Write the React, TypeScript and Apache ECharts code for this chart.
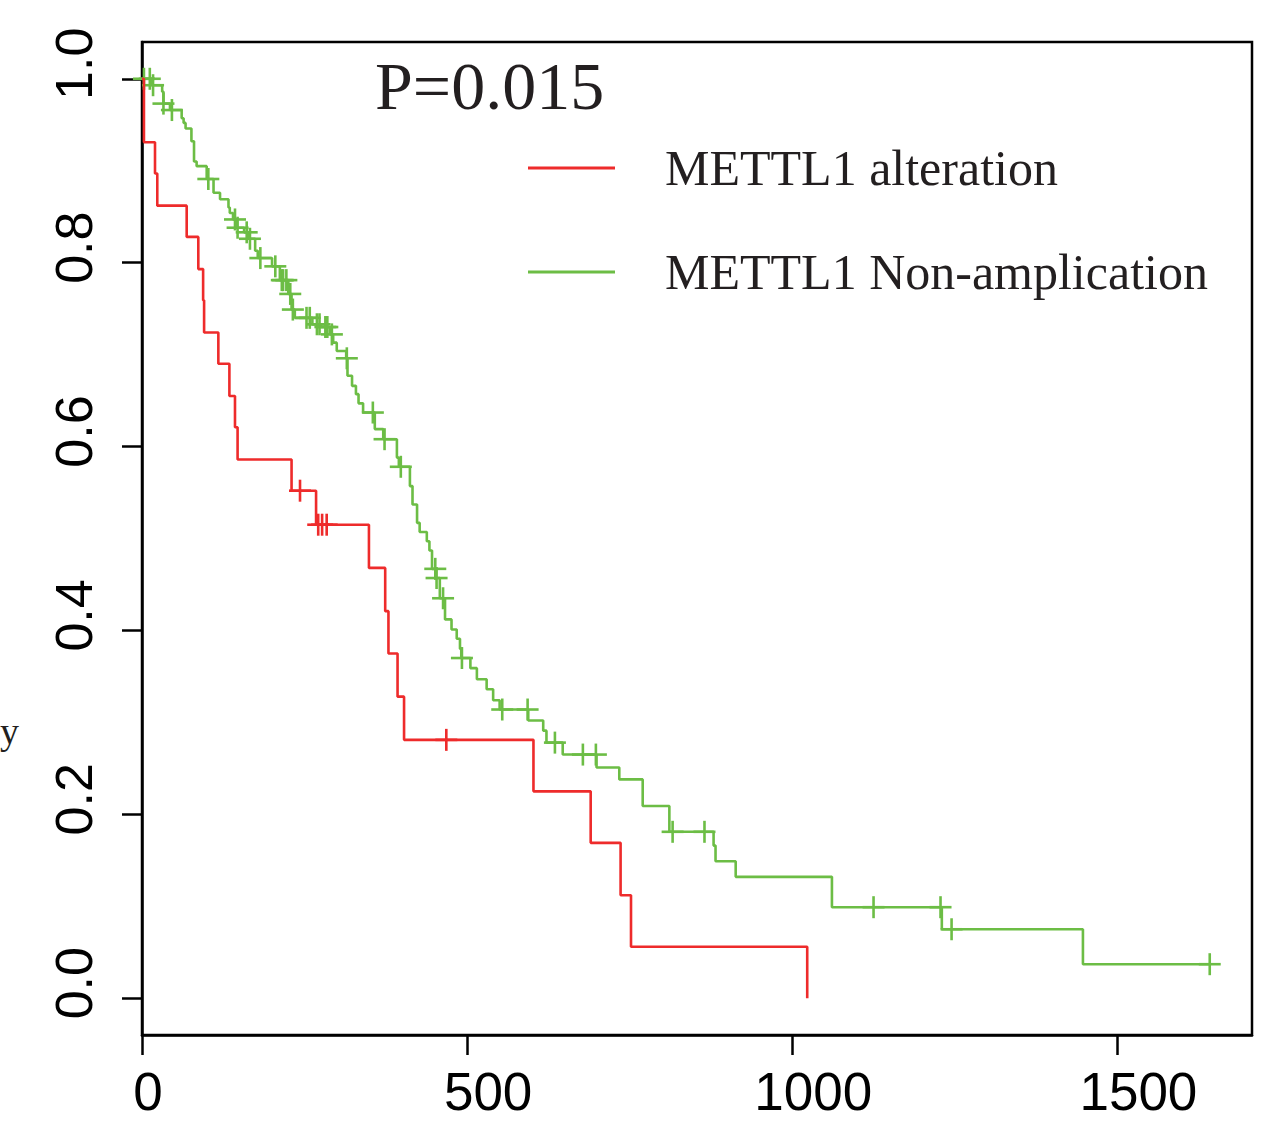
import React, { useEffect, useRef } from "react";
import * as echarts from "echarts";

// ---- data ----
const redName = "METTL1 alteration";
const greenName = "METTL1 Non-amplication";

const redTimes = [0, 3, 20, 23.5, 68.7, 86.6, 94, 95.5, 117.4, 134.4, 143, 147, 230, 267.7, 349, 374, 379, 393, 403, 602, 690, 736, 752, 1023];
const redSurv = [1, 0.931, 0.897, 0.862, 0.828, 0.793, 0.759, 0.724, 0.69, 0.655, 0.621, 0.586, 0.552, 0.515, 0.468, 0.421, 0.375, 0.328, 0.281, 0.225, 0.169, 0.112, 0.056, 0];
const redCensor = [243, 271, 277, 284, 468];

const greenTimes = [0, 15, 31, 33, 43, 61, 64, 67, 76, 80, 84, 99.5, 110, 120, 133, 135, 140, 146, 157, 164, 174, 178, 200, 212, 225, 230, 235, 262, 275, 289, 294, 299.5, 314, 316, 323, 329, 333, 340, 358, 371, 392, 395, 412, 416, 423, 427, 438, 442, 446, 452, 458, 466, 476, 484, 489, 491, 505, 515, 530, 540, 550, 594, 617, 622, 647, 699, 734, 770, 811, 879, 882, 913, 1061, 1230, 1447, 1642];
const greenSurv = [1, 0.993, 0.986, 0.973, 0.966, 0.957, 0.952, 0.946, 0.932, 0.91, 0.905, 0.891, 0.876, 0.869, 0.86, 0.854, 0.847, 0.838, 0.833, 0.826, 0.813, 0.805, 0.796, 0.781, 0.766, 0.749, 0.74, 0.733, 0.73, 0.722, 0.713, 0.704, 0.696, 0.677, 0.666, 0.657, 0.647, 0.637, 0.619, 0.608, 0.588, 0.578, 0.557, 0.537, 0.517, 0.507, 0.497, 0.487, 0.467, 0.457, 0.435, 0.412, 0.401, 0.391, 0.38, 0.37, 0.359, 0.347, 0.336, 0.324, 0.314, 0.302, 0.291, 0.278, 0.265, 0.251, 0.238, 0.209, 0.181, 0.166, 0.149, 0.132, 0.099, 0.075, 0.037, 0.037];
const greenCensor = [3, 12, 17, 33, 46, 102, 143, 147, 161, 166, 182, 205, 215, 217, 222, 228, 232, 253, 258, 269, 273, 282, 285, 292, 315, 355, 373, 398, 451, 453, 463, 492, 554, 593, 635, 678, 698, 816, 865, 1125, 1228, 1245, 1642];

const xTicks = [0, 500, 1000, 1500];
const xTickLabels = ["0", "500", "1000", "1500"];
const yTicks = [0, 0.2, 0.4, 0.6, 0.8, 1.0];
const yTickLabels = ["0.0", "0.2", "0.4", "0.6", "0.8", "1.0"];

const pValueText = "P=0.015";
const yAxisFragment = "y";

const RED = "#ee2b2b";
const GREEN = "#6cbd45";

function survAt(times: number[], surv: number[], t: number) {
  let s = surv[0];
  for (let i = 0; i < times.length; i++) {
    if (times[i] <= t) s = surv[i];
  }
  return s;
}

function censorRender(color: string) {
  return (params: any, api: any) => {
    const p = api.coord([api.value(0), api.value(1)]);
    const h = 11;
    return {
      type: "group",
      children: [
        { type: "line", shape: { x1: p[0] - h, y1: p[1], x2: p[0] + h, y2: p[1] }, style: { stroke: color, lineWidth: 2.6 } },
        { type: "line", shape: { x1: p[0], y1: p[1] - h, x2: p[0], y2: p[1] + h }, style: { stroke: color, lineWidth: 2.6 } },
      ],
    };
  };
}

export default function App() {
  const ref = useRef<HTMLDivElement>(null);
  useEffect(() => {
    if (!ref.current) return;
    const chart = echarts.init(ref.current, undefined, { renderer: "svg" });
    const redData = redTimes.map((t, i) => [t, redSurv[i]]);
    const greenData = greenTimes.map((t, i) => [t, greenSurv[i]]);
    const redC = redCensor.map((t) => [t, survAt(redTimes, redSurv, t)]);
    const greenC = greenCensor.map((t) => [t, survAt(greenTimes, greenSurv, t)]);
    const labelFont = { fontFamily: "Liberation Sans", color: "#000" };
    chart.setOption({
      animation: false,
      backgroundColor: "#fff",
      grid: { left: 142, right: 27, top: 42, bottom: 90, show: true, borderColor: "#000", borderWidth: 2.5, backgroundColor: "transparent" },
      xAxis: {
        type: "value",
        min: 0,
        max: 1707,
        splitLine: { show: false },
        axisLine: { show: true, onZero: false, lineStyle: { color: "#000", width: 2.5 } },
        axisTick: { show: true, length: 20, lineStyle: { color: "#000", width: 2.5 }, customValues: xTicks },
        axisLabel: {
          customValues: xTicks,
          formatter: (v: number) => {
            const i = xTicks.indexOf(v);
            if (i < 0) return "";
            return `{${i === 0 ? "s" : "l"}|${xTickLabels[i]}}`;
          },
          ...labelFont,
          fontSize: 53,
          margin: 30,
          rich: {
            s: { ...labelFont, fontSize: 53, padding: [0, 0, 0, 12] },
            l: { ...labelFont, fontSize: 53, padding: [0, 0, 0, 42] },
          },
        },
      },
      yAxis: {
        type: "value",
        min: -0.04,
        max: 1.04,
        splitLine: { show: false },
        axisLine: { show: true, onZero: false, lineStyle: { color: "#000", width: 2.5 } },
        axisTick: { show: true, length: 20, lineStyle: { color: "#000", width: 2.5 }, customValues: yTicks },
        axisLabel: {
          customValues: yTicks,
          formatter: (v: number) => {
            const i = yTicks.findIndex((y) => Math.abs(y - v) < 1e-9);
            return i >= 0 ? `{l|${yTickLabels[i]}}` : "";
          },
          rotate: 90,
          ...labelFont,
          fontSize: 52,
          margin: 42,
          rich: {
            l: { ...labelFont, fontSize: 52, padding: [0, 0, 0, 30] },
          },
        },
      },
      legend: {
        data: [redName, greenName],
        orient: "vertical",
        left: 523,
        top: 138,
        itemWidth: 87,
        itemHeight: 3,
        itemGap: 54,
        icon: "rect",
        textStyle: { fontFamily: "Liberation Serif", fontSize: 50, color: "#231f20", lineHeight: 50, padding: [0, 0, 0, 45] },
      },
      graphic: [
        { type: "text", x: 375, y: 86, style: { text: pValueText, fontFamily: "Liberation Serif", fontSize: 68, fill: "#231f20", align: "left", verticalAlign: "middle" } },
        { type: "text", x: 0, y: 731, style: { text: yAxisFragment, fontFamily: "Liberation Serif", fontSize: 38, fill: "#231f20", align: "left", verticalAlign: "middle" } },
      ],
      series: [
        { name: greenName, type: "line", step: "end", data: greenData, showSymbol: false, lineStyle: { color: GREEN, width: 2.6 }, itemStyle: { color: GREEN }, z: 2 },
        { name: greenName + " censored", type: "custom", data: greenC, renderItem: censorRender(GREEN), z: 2 },
        { name: redName, type: "line", step: "end", data: redData, showSymbol: false, lineStyle: { color: RED, width: 2.6 }, itemStyle: { color: RED }, z: 3 },
        { name: redName + " censored", type: "custom", data: redC, renderItem: censorRender(RED), z: 3 },
      ],
    });
    return () => chart.dispose();
  }, []);
  return (
    <div
      ref={ref}
      style={{ position: "fixed", left: 0, top: 0, width: 1279, height: 1125, background: "#fff" }}
    />
  );
}
